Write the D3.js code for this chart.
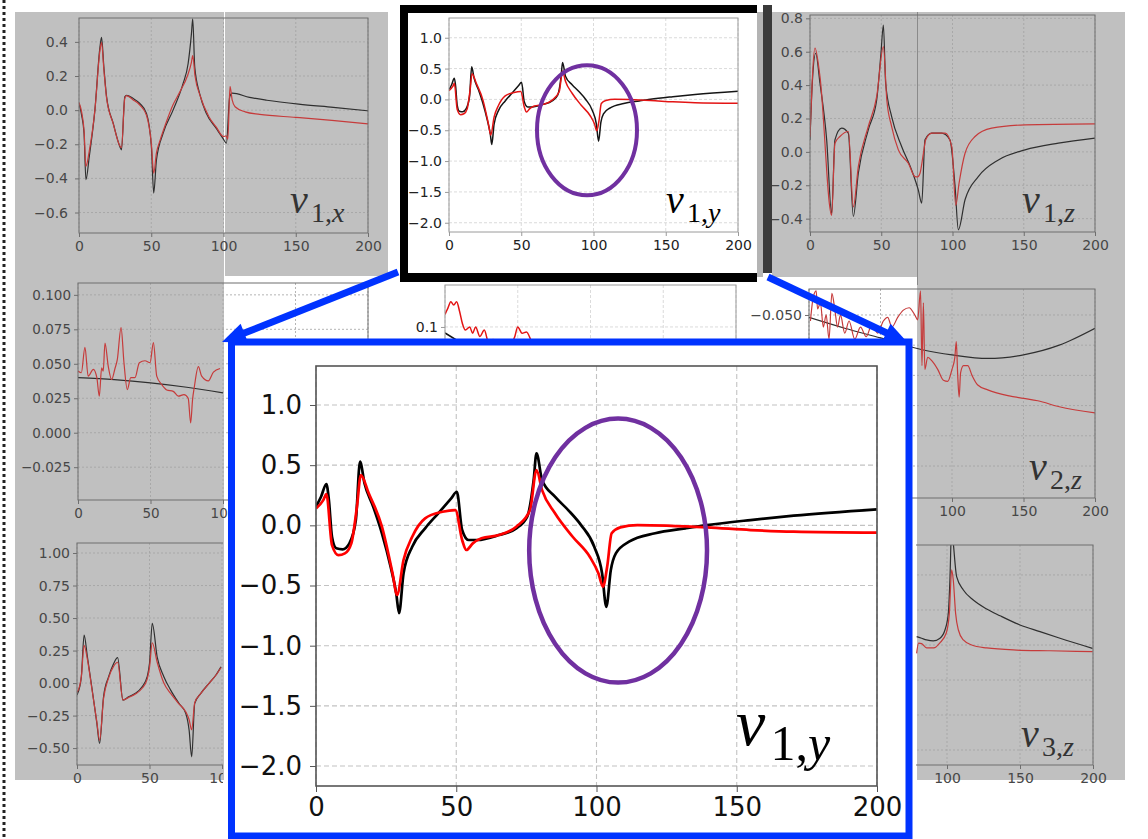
<!DOCTYPE html>
<html>
<head>
<meta charset="utf-8">
<script src="https://cdn.jsdelivr.net/npm/d3@7"></script>
<style>
  body { margin: 0; background: #fff; }
  svg { display: block; }
</style>
</head>
<body>
<svg id="fig"></svg>
<script>
// shared x ticks (all panels run 0..200)
var xTicks = [0, 50, 100, 150, 200];

// v1,x
var v1xTicks = [-0.6, -0.4, -0.2, 0.0, 0.2, 0.4];
var v1xBlack = [[0,0.039],[1.8,-0.029],[3.5,-0.136],[4.8,-0.408],[7.1,-0.272],[11,0],[14.5,0.369],[15.6,0.427],[17.2,0.252],[19.1,0.078],[23.7,-0.078],[28.3,-0.214],[29.4,-0.233],[31.7,0.078],[32.9,0.087],[37.5,0.068],[42.1,0.039],[46.7,-0.019],[50.1,-0.214],[51.7,-0.486],[53.6,-0.292],[58.2,-0.136],[65.1,0],[72,0.155],[75.5,0.272],[77.8,0.447],[78.7,0.535],[80.1,0.252],[83.5,0.097],[88.1,-0.019],[95,-0.107],[99.6,-0.165],[102,-0.194],[104.3,0.078],[106,0.1],[118,0.075],[130,0.058],[152,0.035],[176,0.016],[200,-0.004]];
var v1xRed = [[0,0.045],[1.8,-0.01],[3.5,-0.12],[4.8,-0.33],[7.1,-0.24],[11,0.0],[14.5,0.35],[15.6,0.398],[17.2,0.24],[19.1,0.07],[23.7,-0.08],[28.3,-0.21],[29.4,-0.22],[31.7,0.07],[32.9,0.085],[37.5,0.06],[42.1,0.03],[46.7,-0.03],[50.1,-0.2],[51.7,-0.37],[53.6,-0.25],[56,-0.18],[60,-0.08],[65,0.03],[70,0.11],[75,0.2],[77.8,0.28],[78.7,0.32],[80.3,0.2],[84,0.08],[90,-0.04],[95,-0.1],[100,-0.155],[101.8,-0.15],[103,-0.17],[104.5,0.14],[106,0.06],[108,0.02],[115,-0.01],[125,-0.025],[150,-0.042],[175,-0.06],[200,-0.08]];

// v1,y (small copy and enlarged copy)
var v1yTicks = [-2.0, -1.5, -1.0, -0.5, 0.0, 0.5, 1.0];
var v1yBlack = [[0,0.155],[1.8,0.238],[3.7,0.343],[4.6,0.21],[5.7,-0.095],[7.2,-0.191],[9.5,-0.2],[11.9,-0.15],[14.2,0.044],[15.7,0.529],[17.3,0.349],[20.4,0.155],[23.5,-0.066],[26.6,-0.344],[28.6,-0.565],[29.6,-0.73],[31.2,-0.4],[34.3,-0.178],[38.9,-0.025],[43.6,0.1],[48.2,0.224],[50.2,0.279],[52.1,-0.039],[54.4,-0.122],[57.5,-0.122],[65.2,-0.081],[71.4,-0.025],[75.3,0.072],[77.6,0.377],[78.6,0.599],[80.6,0.377],[85.2,0.238],[89.9,0.127],[94.5,0.002],[99.2,-0.178],[102,-0.4],[103.5,-0.677],[105.1,-0.372],[106.9,-0.233],[111.6,-0.136],[120.9,-0.066],[131.7,-0.025],[139.4,0.002],[154.9,0.044],[170.3,0.08],[200,0.133]];
var v1yRed = [[0,0.14],[2.6,0.21],[3.7,0.26],[5.7,-0.164],[8,-0.247],[10.3,-0.233],[12.6,-0.15],[14.6,0.155],[16,0.418],[18.8,0.266],[23.5,-0.011],[27.3,-0.4],[28.9,-0.579],[31.2,-0.288],[34.3,-0.095],[38.9,0.058],[45.1,0.113],[49.7,0.127],[52.1,-0.122],[53.6,-0.205],[55.9,-0.15],[59,-0.108],[65.2,-0.081],[71.4,-0.011],[76.3,0.127],[78.6,0.46],[80.6,0.293],[85.2,0.1],[91.5,-0.095],[97.6,-0.261],[100.7,-0.4],[102.3,-0.51],[103.8,-0.344],[105.4,-0.066],[108.5,-0.017],[114.6,0.002],[139.4,-0.017],[154.9,-0.039],[170.3,-0.053],[200,-0.061]];

// v1,z
var v1zTicks = [-0.4, -0.2, 0.0, 0.2, 0.4, 0.6, 0.8];
var v1zBlack = [[0,0.072],[1.6,0.411],[4,0.591],[7,0.411],[11.7,0.072],[15.2,-0.37],[17.5,0.072],[22.2,0.142],[26.9,0.112],[30.4,-0.387],[33.9,-0.128],[40.9,0.132],[46.8,0.311],[49.8,0.591],[51.5,0.76],[53.1,0.411],[57.3,0.211],[64.3,0.032],[71.3,-0.108],[76,-0.228],[78.4,-0.307],[80.7,0.072],[85.4,0.112],[92.4,0.112],[98.2,0.072],[101.8,-0.208],[104.1,-0.467],[108.8,-0.287],[118.1,-0.148],[132.2,-0.048],[150.9,0.012],[174.3,0.052],[200,0.082]];
var v1zRed = [[0,0.09],[3.5,0.621],[7,0.451],[15.2,-0.38],[17.5,0.052],[21,0.092],[26.9,0.122],[30.4,-0.33],[33.9,-0.088],[40.9,0.152],[46.8,0.331],[51.5,0.631],[53.9,0.311],[57.3,0.152],[62,0.012],[69,-0.068],[73.7,-0.148],[75.5,-0.15],[77.2,-0.128],[79.6,-0.008],[81.2,0.072],[85.4,0.112],[94.8,0.112],[99.5,0.032],[102.3,-0.32],[104.6,-0.188],[108.8,-0.008],[115.8,0.092],[127.5,0.142],[150.9,0.162],[200,0.168]];

// v2,x (mostly hidden under the zoom box)
var v2xTicks = [-0.025, 0.0, 0.025, 0.05, 0.075, 0.1];
var v2xBlack = [[0,0.0399],[25,0.0385],[50,0.0362],[75,0.033],[100,0.0289]];
var v2xRed = [[0,0.0447],[2.3,0.0435],[4.8,0.062],[7,0.041],[10.6,0.046],[13,0.0399],[14.7,0.0265],[16.3,0.047],[17.4,0.0447],[18.6,0.065],[20.9,0.048],[23.2,0.0386],[25.5,0.0466],[27.1,0.053],[29.7,0.0763],[31.7,0.0508],[34,0.0313],[36.4,0.0399],[39.3,0.0399],[42.3,0.0508],[46.2,0.0522],[49.7,0.0508],[52,0.0654],[54.3,0.041],[57.7,0.035],[61.2,0.031],[65.7,0.03],[69.2,0.0265],[73.1,0.0277],[76,0.025],[77.7,0.0071],[79,0.024],[80.2,0.033],[83,0.0479],[85.3,0.041],[89.9,0.0376],[93.4,0.044],[98,0.0466]];

// v2,y (only the top strip shows)
var v2yTicks = [-0.1, 0.0, 0.1];
var v2yBlack = [[0,0.0905],[25,0.055],[50,0.02],[80,-0.02]];
var v2yRed = [[0,0.12],[2,0.13],[4,0.14],[6,0.135],[8,0.14],[10,0.125],[12,0.105],[14,0.095],[17,0.1],[19,0.09],[21,0.1],[24,0.085],[27,0.095],[30,0.075],[33,0.08],[36,0.07],[40,0.075],[44,0.07],[48,0.085],[50,0.1],[53,0.09],[56,0.092],[60,0.075],[64,0.07],[70,0.05]];

// v2,z
var v2zTicks = [-0.175, -0.15, -0.125, -0.1, -0.075, -0.05];
var v2zBlack = [[0,-0.052],[25,-0.061],[50,-0.069],[80,-0.079],[100,-0.083],[125,-0.086],[150,-0.083],[175,-0.075],[200,-0.061]];
var v2zRed = [[1,-0.055],[3,-0.035],[5,-0.03],[6,-0.045],[8,-0.04],[10,-0.06],[12,-0.05],[14,-0.07],[16,-0.032],[18,-0.045],[20,-0.06],[22,-0.05],[25,-0.065],[28,-0.055],[32,-0.07],[36,-0.06],[40,-0.068],[44,-0.058],[48,-0.065],[52,-0.055],[55,-0.052],[58,-0.06],[62,-0.052],[66,-0.046],[70,-0.044],[74,-0.05],[76,-0.054],[78,-0.03],[79,-0.092],[80,-0.04],[81,-0.095],[83,-0.085],[86,-0.088],[90,-0.095],[94,-0.104],[97,-0.105],[100,-0.095],[102,-0.085],[103,-0.072],[104,-0.1],[105,-0.118],[106,-0.098],[108,-0.092],[111,-0.092],[114,-0.1],[118,-0.108],[125,-0.112],[140,-0.117],[150,-0.119],[160,-0.121],[175,-0.126],[200,-0.131]];

// v3,x
var v3xTicks = [-0.5, -0.25, 0.0, 0.25, 0.5, 0.75, 1.0];
var v3xBlack = [[0,-0.092],[1.9,-0.028],[3,0.049],[4.9,0.369],[7.2,0.2],[10.2,-0.03],[13.7,-0.31],[15.6,-0.464],[18.3,-0.105],[21.8,0.049],[25.3,0.151],[28,0.195],[31.7,-0.131],[35.6,-0.105],[40.3,-0.079],[44.9,-0.028],[48.4,0.049],[50,0.151],[51.9,0.459],[55.3,0.2],[59.9,0.049],[64.6,-0.054],[70.3,-0.156],[75,-0.233],[77.3,-0.36],[79.1,-0.567],[81.2,-0.156],[85.4,-0.079],[91.2,0],[95.8,0.062],[99.3,0.125]];
var v3xRed = [[0,-0.07],[1.9,-0.02],[3,0.05],[4.9,0.29],[7.2,0.18],[10.2,-0.04],[13.7,-0.3],[15.6,-0.44],[18.3,-0.12],[21.8,0.04],[25.3,0.13],[28,0.16],[31.7,-0.13],[35.6,-0.11],[40.3,-0.085],[44.9,-0.04],[48.4,0.03],[50,0.12],[51.9,0.31],[55.3,0.16],[59.9,0.0],[64.6,-0.08],[70.3,-0.16],[75,-0.22],[77.3,-0.28],[79.1,-0.36],[81.2,-0.15],[85.4,-0.08],[91.2,0],[95.8,0.06],[99.3,0.12]];

// v3,z
var v3zTicks = [-0.5, -0.25, 0.0, 0.25, 0.5, 0.75];
var v3zBlack = [[79.2,0.31],[82.6,0.298],[86,0.286],[90.6,0.279],[95.2,0.298],[98.6,0.357],[100.9,0.476],[102,0.714],[103.2,1.1],[104.3,0.98],[106.6,0.738],[111.2,0.643],[118,0.571],[127.2,0.507],[136.3,0.459],[150,0.393],[163.7,0.345],[177.4,0.298],[199.7,0.226]];
var v3zRed = [[79.2,0.19],[80.5,0.264],[82.6,0.26],[86,0.229],[91,0.229],[95,0.264],[99.5,0.336],[101.6,0.476],[103.2,0.786],[104.3,0.714],[105.9,0.476],[107.8,0.357],[111.2,0.286],[116.9,0.25],[127.2,0.229],[147.7,0.214],[170.5,0.209],[199.8,0.202]];

var svg = d3.select('#fig').attr('width', 1148).attr('height', 839);

// area hidden under the enlarged (blue) panel
var zoomBox = { x: 228, y: 338, w: 684, h: 501 };

var themes = {
  gray:  { text: '#474747', frame: '#6e6e6e', grid: '#a2a2a2', dash: '2,2', gw: 0.8, black: '#2f2f2f', red: '#c63b3b', lw: 1.2 },
  white: { text: '#222', frame: '#9a9a9a', grid: '#d2d2d2', dash: '3,2', gw: 0.8, black: '#151515', red: '#e31414', lw: 1.5 },
  big:   { text: '#111', frame: '#555', grid: '#c2c2c2', dash: '5,3', gw: 1.1, black: '#000', red: '#ff0000', lw: 2.7 }
};

var clipCount = 0;
function clipRect(x, y, w, h) {
  var id = 'clip' + (clipCount++);
  svg.append('clipPath').attr('id', id).append('rect')
    .attr('x', x).attr('y', y).attr('width', w).attr('height', h);
  return 'url(#' + id + ')';
}

function label(g, x, y, sub, vr, size, subSize, color) {
  var t = g.append('text')
    .attr('x', x).attr('y', y)
    .attr('font-family', 'Liberation Serif, serif')
    .attr('fill', color);
  t.append('tspan').attr('font-style', 'italic').attr('font-size', size).text('v');
  t.append('tspan').attr('font-size', subSize).attr('dx', size * 0.08).attr('dy', size * 0.22).text(sub);
  t.append('tspan').attr('font-style', 'italic').attr('font-size', subSize).text(vr);
}

function inside(r, px, py) {
  return px >= r.x && px <= r.x + r.w && py >= r.y && py <= r.y + r.h;
}

function drawPanel(cfg) {
  var th = themes[cfg.theme];
  var g = svg.append('g');
  if (cfg.clip) g.attr('clip-path', clipRect(cfg.clip[0], cfg.clip[1], cfg.clip[2], cfg.clip[3]));

  var x = d3.scaleLinear().domain([0, 200]).range([cfg.left, cfg.right]);
  var y = d3.scaleLinear().domain(cfg.ydom).range([cfg.top, cfg.bottom]);

  // grid
  g.append('g').selectAll('line').data(cfg.yticks).enter().append('line')
    .attr('x1', cfg.left).attr('x2', cfg.right)
    .attr('y1', function(d) { return y(d); }).attr('y2', function(d) { return y(d); })
    .attr('stroke', th.grid).attr('stroke-width', th.gw).attr('stroke-dasharray', th.dash);
  g.append('g').selectAll('line').data(xTicks).enter().append('line')
    .attr('y1', cfg.top).attr('y2', cfg.bottom)
    .attr('x1', function(d) { return x(d); }).attr('x2', function(d) { return x(d); })
    .attr('stroke', th.grid).attr('stroke-width', th.gw).attr('stroke-dasharray', th.dash);

  // curves
  var line = d3.line()
    .x(function(d) { return x(d[0]); })
    .y(function(d) { return y(d[1]); })
    .curve(d3.curveMonotoneX);
  var lines = g.append('g').attr('clip-path', clipRect(cfg.left, cfg.top, cfg.right - cfg.left, cfg.bottom - cfg.top));
  lines.append('path').datum(cfg.black).attr('d', line)
    .attr('fill', 'none').attr('stroke', th.black).attr('stroke-width', th.lw).attr('stroke-linejoin', 'round');
  lines.append('path').datum(cfg.red).attr('d', line)
    .attr('fill', 'none').attr('stroke', th.red).attr('stroke-width', th.lw).attr('stroke-linejoin', 'round');

  // frame
  g.append('rect')
    .attr('x', cfg.left).attr('y', cfg.top)
    .attr('width', cfg.right - cfg.left).attr('height', cfg.bottom - cfg.top)
    .attr('fill', 'none').attr('stroke', th.frame).attr('stroke-width', cfg.theme === 'big' ? 1.6 : 1);

  // axes
  var fmt = d3.format(cfg.fmt);
  var ax = g.append('g').attr('transform', 'translate(0,' + cfg.bottom + ')')
    .call(d3.axisBottom(x).tickValues(xTicks).tickSize(cfg.tick).tickPadding(cfg.xpad));
  var ay = g.append('g').attr('transform', 'translate(' + cfg.left + ',0)')
    .call(d3.axisLeft(y).tickValues(cfg.yticks).tickFormat(fmt).tickSize(cfg.tick).tickPadding(cfg.ypad));
  [ax, ay].forEach(function(a) {
    a.select('.domain').remove();
    a.selectAll('line').attr('stroke', th.frame);
    a.selectAll('text').attr('fill', th.text)
      .attr('font-family', 'DejaVu Sans, sans-serif')
      .attr('font-size', cfg.font);
  });

  // drop tick labels that can not be seen (clipped away or under the zoom box)
  if (cfg.theme !== 'big') {
    g.selectAll('.tick text').each(function() {
      var b = this.getBoundingClientRect();
      var cx = b.x + b.width / 2, cy = b.y + b.height / 2;
      var hidden = inside(zoomBox, cx, cy);
      if (cfg.clip) {
        var c = { x: cfg.clip[0], y: cfg.clip[1], w: cfg.clip[2], h: cfg.clip[3] };
        if (!inside(c, cx, cy)) hidden = true;
      }
      if (hidden) d3.select(this).remove();
    });
  }

  if (cfg.ellipse) {
    var e = cfg.ellipse;
    g.append('ellipse')
      .attr('cx', x(e.cx)).attr('cy', y(e.cy))
      .attr('rx', x(e.cx + e.rx) - x(e.cx))
      .attr('ry', y(e.cy - e.ry) - y(e.cy))
      .attr('fill', 'none').attr('stroke', '#7030a0').attr('stroke-width', e.w);
  }
  if (cfg.label) {
    var L = cfg.label;
    label(g, L.x, L.y, L.sub, L.v, L.size, L.subSize, cfg.theme === 'gray' ? '#333' : '#000');
  }
}

// ---- backgrounds ----
var gray = '#c0c0c0';
svg.append('rect').attr('x', 15).attr('y', 12).attr('width', 209).attr('height', 768).attr('fill', gray);
svg.append('rect').attr('x', 225).attr('y', 12).attr('width', 163).attr('height', 264).attr('fill', gray);
svg.append('rect').attr('x', 772).attr('y', 12).attr('width', 145).attr('height', 265).attr('fill', gray);
svg.append('rect').attr('x', 917).attr('y', 12).attr('width', 208).attr('height', 768).attr('fill', gray);
svg.append('line').attr('x1', 917.5).attr('x2', 917.5).attr('y1', 12).attr('y2', 285)
  .attr('stroke', '#8a8a8a').attr('stroke-width', 1);

// dotted edge on the left
svg.append('line').attr('x1', 4).attr('x2', 4).attr('y1', 0).attr('y2', 839)
  .attr('stroke', '#222').attr('stroke-width', 3).attr('stroke-dasharray', '3,3');

// ---- small panels ----
drawPanel({ theme: 'gray', left: 79, right: 368, top: 18, bottom: 233, ydom: [0.54, -0.72],
  yticks: v1xTicks, fmt: '.1f', font: 14, tick: 4, xpad: 4, ypad: 7,
  black: v1xBlack, red: v1xRed,
  label: { x: 290, y: 213, sub: '1,', v: 'x', size: 40, subSize: 28 } });

drawPanel({ theme: 'gray', left: 810, right: 1095, top: 15, bottom: 232, ydom: [0.82, -0.48],
  yticks: v1zTicks, fmt: '.1f', font: 14, tick: 4, xpad: 4, ypad: 3,
  black: v1zBlack, red: v1zRed,
  label: { x: 1022, y: 213, sub: '1,', v: 'z', size: 40, subSize: 28 } });

drawPanel({ theme: 'gray', left: 78, right: 368, top: 283, bottom: 500, ydom: [0.1086, -0.0488],
  yticks: v2xTicks, fmt: '.3f', font: 13.5, tick: 4, xpad: 4, ypad: 3,
  black: v2xBlack, red: v2xRed });

drawPanel({ theme: 'white', left: 445, right: 736, top: 285, bottom: 500, ydom: [0.1667, -0.175],
  yticks: v2yTicks, fmt: '.1f', font: 14, tick: 4, xpad: 4, ypad: 3,
  black: v2yBlack, red: v2yRed });

drawPanel({ theme: 'gray', left: 809, right: 1095, top: 289, bottom: 498, ydom: [-0.0285, -0.2015],
  yticks: v2zTicks, fmt: '.3f', font: 14, tick: 4, xpad: 4, ypad: 3,
  black: v2zBlack, red: v2zRed,
  label: { x: 1029, y: 480, sub: '2,', v: 'z', size: 40, subSize: 28 } });

drawPanel({ theme: 'gray', left: 77, right: 367, top: 543, bottom: 765, ydom: [1.077, -0.63],
  yticks: v3xTicks, fmt: '.2f', font: 14, tick: 4, xpad: 4, ypad: 3,
  black: v3xBlack, red: v3xRed, clip: [0, 0, 223, 839] });

drawPanel({ theme: 'gray', left: 801, right: 1093, top: 545, bottom: 765, ydom: [0.964, -0.607],
  yticks: v3zTicks, fmt: '.2f', font: 14, tick: 4, xpad: 4, ypad: 3,
  black: v3zBlack, red: v3zRed, clip: [916, 0, 232, 839],
  label: { x: 1021, y: 747, sub: '3,', v: 'z', size: 40, subSize: 28 } });

// ---- highlighted v1,y panel with its frame ----
svg.append('rect').attr('x', 400).attr('y', 5).attr('width', 357).attr('height', 277).attr('fill', '#000');
svg.append('rect').attr('x', 408).attr('y', 13).attr('width', 349).attr('height', 260).attr('fill', '#fff');
svg.append('rect').attr('x', 757).attr('y', 12).attr('width', 6).attr('height', 265).attr('fill', '#b4b4b4');
svg.append('rect').attr('x', 763).attr('y', 5).attr('width', 9).attr('height', 268).attr('fill', '#3a3a3a');

drawPanel({ theme: 'white', left: 449, right: 738, top: 18, bottom: 232, ydom: [1.32, -2.15],
  yticks: v1yTicks, fmt: '.1f', font: 14, tick: 4, xpad: 4, ypad: 3,
  black: v1yBlack, red: v1yRed,
  ellipse: { cx: 95.5, cy: -0.5, rx: 34.6, ry: 1.054, w: 4 },
  label: { x: 666, y: 213, sub: '1,', v: 'y', size: 40, subSize: 28 } });

// ---- enlarged v1,y in blue box ----
svg.append('rect').attr('x', 231.5).attr('y', 342).attr('width', 677.5).attr('height', 494)
  .attr('fill', '#fff').attr('stroke', '#0033ff').attr('stroke-width', 7);

drawPanel({ theme: 'big', left: 316, right: 877, top: 366, bottom: 786, ydom: [1.324, -2.166],
  yticks: v1yTicks, fmt: '.1f', font: 26, tick: 6, xpad: 6, ypad: 8,
  black: v1yBlack, red: v1yRed,
  ellipse: { cx: 107.7, cy: -0.21, rx: 31.7, ry: 1.097, w: 4.5 },
  label: { x: 736, y: 745, sub: '1,', v: 'y', size: 66, subSize: 50 } });

// ---- arrows from the small panel to the enlarged one ----
function arrow(x1, y1, x2, y2) {
  var dx = x2 - x1, dy = y2 - y1, len = Math.sqrt(dx * dx + dy * dy);
  var ux = dx / len, uy = dy / len, head = 24, half = 10;
  var bx = x2 - ux * head, by = y2 - uy * head;
  svg.append('line').attr('x1', x1).attr('y1', y1).attr('x2', bx + ux * 4).attr('y2', by + uy * 4)
    .attr('stroke', '#0033ff').attr('stroke-width', 7);
  svg.append('path')
    .attr('d', 'M' + x2 + ',' + y2 + 'L' + (bx - uy * half) + ',' + (by + ux * half) +
      'L' + (bx + uy * half) + ',' + (by - ux * half) + 'Z')
    .attr('fill', '#0033ff');
}
arrow(398, 272, 222, 342);
arrow(768, 277, 908, 343);
</script>
</body>
</html>
